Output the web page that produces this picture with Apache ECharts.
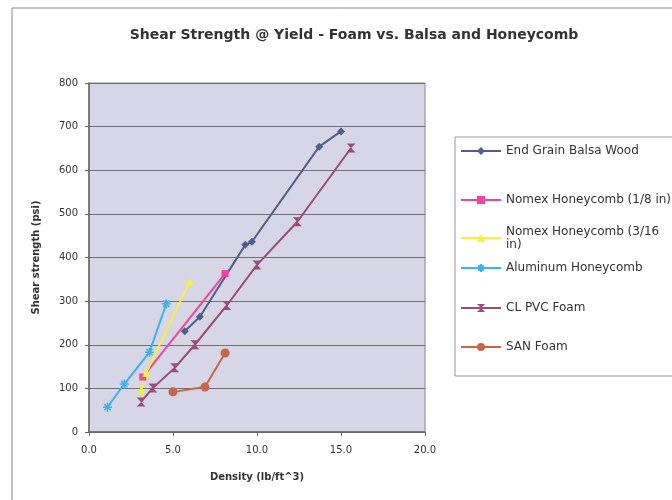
<!DOCTYPE html>
<html>
<head>
<meta charset="utf-8">
<script src="https://cdn.jsdelivr.net/npm/echarts@6/dist/echarts.min.js"></script>
<style>html,body{margin:0;padding:0;background:#fff;}#c{width:672px;height:500px;}</style>
</head>
<body>
<div id="c"></div>
<script>
const seriesNames = [
  'End Grain Balsa Wood',
  'Nomex Honeycomb (1/8 in)',
  'Nomex Honeycomb (3/16 in)',
  'Aluminum Honeycomb',
  'CL PVC Foam',
  'SAN Foam'
];
const balsa = [[5.7,231],[6.6,264],[9.3,429],[9.7,436],[13.7,654],[15.0,689]];
const nomex18 = [[3.2,126],[8.1,363]];
const nomex316 = [[3.1,95],[3.4,135],[6.0,345]];
const aluminum = [[1.1,57],[2.1,110],[3.6,183],[4.6,294]];
const clpvc = [[3.1,69],[3.8,101],[5.1,147],[6.3,200],[8.2,290],[10.0,383],[12.4,482],[15.6,651]];
const sanFoam = [[5.0,92],[6.9,103],[8.1,181]];
const xTicks = [0, 5, 20];
const yTicks = [0, 100, 800];

const colors = ['#4e5e8e','#ee469e','#f6f03a','#3cb2ee','#9a4c78','#c8644a'];
const datasets = [balsa, nomex18, nomex316, aluminum, clpvc, sanFoam];
const symbols = [
  'diamond','rect','triangle',
  'path://M0,5 L10,5 M5,0 L5,10 M1.5,1.5 L8.5,8.5 M8.5,1.5 L1.5,8.5',
  'path://M0,0 L10,0 L0,10 L10,10 Z',
  'circle'
];
const symSizes = [8,7,8,9,9,9];
const legendCenters = [151,200,238,268,308,347];

const font = 'DejaVu Sans, Liberation Sans, sans-serif';

const series = datasets.map((d,i)=>({
  name: seriesNames[i],
  type: 'line',
  data: d,
  symbol: symbols[i],
  symbolSize: symSizes[i],
  showAllSymbol: true,
  lineStyle: {color: colors[i], width: 2},
  itemStyle: (i===3) ? {color: colors[i], borderColor: colors[i], borderWidth: 1.5} : {color: colors[i]},
  emphasis: {disabled: true},
  animation: false
}));

const legends = seriesNames.map((n,i)=>({
  data: [n],
  orient: 'vertical',
  left: 460,
  top: legendCenters[i] - (i===2 ? 13 : 6.5),
  padding: 0,
  itemWidth: 40,
  itemHeight: 10,
  itemGap: 0,
  selectedMode: false,
  textStyle: {fontFamily: font, fontSize: 12, color: '#333', lineHeight: 13},
  formatter: (name) => name === 'Nomex Honeycomb (3/16 in)' ? 'Nomex Honeycomb (3/16\nin)' : name
}));

const chart = echarts.init(document.getElementById('c'), null, {renderer: 'canvas'});
chart.setOption({
  backgroundColor: '#ffffff',
  animation: false,
  title: {
    text: 'Shear Strength @ Yield - Foam vs. Balsa and Honeycomb',
    left: 349, top: 23, textAlign: 'center',
    textStyle: {fontFamily: font, fontSize: 14, fontWeight: 'bold', color: '#333'}
  },
  grid: {left: 89, right: 247, top: 83, bottom: 68, show: true, backgroundColor: '#d6d6e6', borderColor: '#888', borderWidth: 1},
  legend: legends,
  graphic: [
    {type: 'rect', shape: {x: 12, y: 8, width: 700, height: 520}, style: {fill: 'none', stroke: '#888', lineWidth: 1}, silent: true, z: -1},
    {type: 'rect', shape: {x: 455, y: 137, width: 240, height: 239}, style: {fill: '#fff', stroke: '#999', lineWidth: 1}, silent: true, z: -1}
  ],
  xAxis: {
    type: 'value', min: xTicks[0], interval: xTicks[1], max: xTicks[2],
    name: 'Density (lb/ft^3)', nameLocation: 'middle', nameGap: 40,
    nameTextStyle: {fontFamily: font, fontSize: 10, fontWeight: 'bold', color: '#333'},
    axisLine: {show: true, lineStyle: {color: '#666', width: 1.5}},
    axisTick: {show: true, length: 4, inside: false, lineStyle: {color: '#666'}},
    axisLabel: {fontFamily: font, fontSize: 10, color: '#333', margin: 13, formatter: v => v.toFixed(1)},
    splitLine: {show: false}
  },
  yAxis: {
    type: 'value', min: yTicks[0], interval: yTicks[1], max: yTicks[2],
    name: 'Shear strength (psi)', nameLocation: 'middle', nameGap: 48, nameRotate: 90,
    nameTextStyle: {fontFamily: font, fontSize: 10, fontWeight: 'bold', color: '#333'},
    axisLine: {show: true, lineStyle: {color: '#666', width: 1.5}},
    axisTick: {show: true, length: 4, inside: false, lineStyle: {color: '#666'}},
    axisLabel: {fontFamily: font, fontSize: 10, color: '#333', margin: 11},
    splitLine: {show: true, lineStyle: {color: '#707070', width: 1.2}}
  },
  series: series
});
</script>
</body>
</html>
